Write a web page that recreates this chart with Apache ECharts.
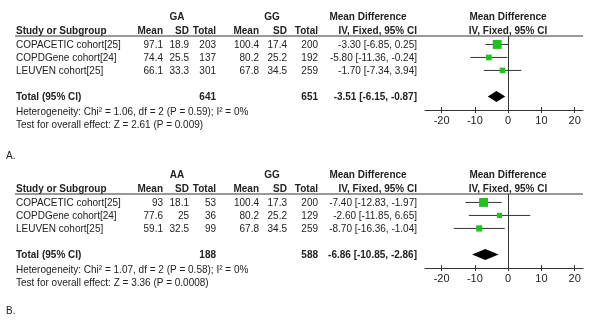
<!DOCTYPE html>
<html>
<head>
<meta charset="utf-8">
<script src="https://cdn.jsdelivr.net/npm/echarts@6/dist/echarts.min.js"></script>
<style>
html, body { margin: 0; padding: 0; background: #fff; }
#main { width: 600px; height: 330px; }
</style>
</head>
<body>
<div id="main"></div>
<script>
// ---- data ----
const studies = ['COPACETIC cohort[25]', 'COPDGene cohort[24]', 'LEUVEN cohort[25]']
const tickValues = [-20, -10, 0, 10, 20]

// A: GA vs GG
const groupsA = ['GA', 'GG']
const meanA1 = [97.1, 74.4, 66.1]
const sdA1 = [18.9, 25.5, 33.3]
const totalA1 = [203, 137, 301]
const meanA2 = [100.4, 80.2, 67.8]
const sdA2 = [17.4, 25.2, 34.5]
const totalA2 = [200, 192, 259]
const mdA = [-3.30, -5.80, -1.70]
const loA = [-6.85, -11.36, -7.34]
const hiA = [0.25, -0.24, 3.94]
const weightA = [55.5, 22.6, 21.9]
const pooledA = { n1: 641, n2: 651, md: -3.51, lo: -6.15, hi: -0.87 }
const hetA = 'Heterogeneity: Chi² = 1.06, df = 2 (P = 0.59); I² = 0%'
const testA = 'Test for overall effect: Z = 2.61 (P = 0.009)'

// B: AA vs GG
const groupsB = ['AA', 'GG']
const meanB1 = [93, 77.6, 59.1]
const sdB1 = [18.1, 25, 32.5]
const totalB1 = [53, 36, 99]
const meanB2 = [100.4, 80.2, 67.8]
const sdB2 = [17.3, 25.2, 34.5]
const totalB2 = [200, 129, 259]
const mdB = [-7.40, -2.60, -8.70]
const loB = [-12.83, -11.85, -16.36]
const hiB = [-1.97, 6.65, -1.04]
const weightB = [54.5, 18.8, 26.7]
const pooledB = { n1: 188, n2: 588, md: -6.86, lo: -10.85, hi: -2.86 }
const hetB = 'Heterogeneity: Chi² = 1.07, df = 2 (P = 0.58); I² = 0%'
const testB = 'Test for overall effect: Z = 3.36 (P = 0.0008)'

// ---- layout ----
const FONT = 'Liberation Sans, Arial, sans-serif'
const TEXT = '#222'
const LINE = '#333'
const ROW_H = 13
const ROW_MIN = 0.35
const TOTAL_ROW = 5
const colRight = [163, 189, 216, 259, 287, 318] // Mean SD Total Mean SD Total
const mdRight = 417
const plotLeft = 425
const plotWidth = 158
const plotHeight = 74

function rowY(top, row) {
  return top + (row - ROW_MIN) * ROW_H
}

// 文字略微拉高, 原图字形偏窄偏高
function txt(x, y, text, align, bold) {
  return {
    type: 'text',
    x: x,
    y: y,
    scaleY: 1.15,
    silent: true,
    style: {
      text: text,
      fill: TEXT,
      font: (bold ? 'bold ' : '') + '10px ' + FONT,
      align: align || 'left',
      verticalAlign: 'middle'
    }
  }
}

function fmt(v) {
  return v.toFixed(2)
}

function ciText(md, lo, hi) {
  return fmt(md) + ' [' + fmt(lo) + ', ' + fmt(hi) + ']'
}

// table text for one panel
function tableGraphics(p) {
  const g = []
  const top = p.top
  g.push(txt(177, top - 19, p.groups[0], 'center', true))
  g.push(txt(272, top - 19, p.groups[1], 'center', true))
  g.push(txt(368, top - 19, 'Mean Difference', 'center', true))
  g.push(txt(508, top - 19, 'Mean Difference', 'center', true))

  const hy = top - 5.5
  g.push(txt(16, hy, 'Study or Subgroup', 'left', true))
  const heads = ['Mean', 'SD', 'Total', 'Mean', 'SD', 'Total']
  heads.forEach((h, i) => g.push(txt(colRight[i], hy, h, 'right', true)))
  g.push(txt(mdRight, hy, 'IV, Fixed, 95% CI', 'right', true))
  g.push(txt(508, hy, 'IV, Fixed, 95% CI', 'center', true))

  g.push({
    type: 'line',
    silent: true,
    shape: { x1: 15, y1: top, x2: 583, y2: top },
    style: { stroke: LINE, lineWidth: 1 }
  })

  studies.forEach((name, i) => {
    const y = rowY(top, i + 1)
    const cells = [p.mean1[i], p.sd1[i], p.n1[i], p.mean2[i], p.sd2[i], p.n2[i]]
    g.push(txt(16, y, name, 'left'))
    cells.forEach((c, j) => g.push(txt(colRight[j], y, String(c), 'right')))
    g.push(txt(mdRight, y, ciText(p.md[i], p.lo[i], p.hi[i]), 'right'))
  })

  const ty = rowY(top, TOTAL_ROW)
  g.push(txt(16, ty, 'Total (95% CI)', 'left', true))
  g.push(txt(colRight[2], ty, String(p.pooled.n1), 'right', true))
  g.push(txt(colRight[5], ty, String(p.pooled.n2), 'right', true))
  g.push(txt(mdRight, ty, ciText(p.pooled.md, p.pooled.lo, p.pooled.hi), 'right', true))
  g.push(txt(16, top + 76, p.het, 'left'))
  g.push(txt(16, top + 89, p.test, 'left'))
  g.push(txt(6, p.labelY, p.label, 'left'))
  return g
}

function renderStudy(params, api) {
  const row = api.value(0)
  const pMd = api.coord([api.value(1), row])
  const pLo = api.coord([api.value(2), row])
  const pHi = api.coord([api.value(3), row])
  const s = 1.2 * Math.sqrt(api.value(4))
  return {
    type: 'group',
    children: [
      {
        type: 'line',
        shape: { x1: pLo[0], y1: pLo[1], x2: pHi[0], y2: pHi[1] },
        style: { stroke: LINE, lineWidth: 1 }
      },
      {
        type: 'rect',
        shape: { x: pMd[0] - s / 2, y: pMd[1] - s / 2, width: s, height: s },
        style: { fill: '#1ec31e' }
      }
    ]
  }
}

function renderTotal(params, api) {
  const row = api.value(0)
  const pMd = api.coord([api.value(1), row])
  const pLo = api.coord([api.value(2), row])
  const pHi = api.coord([api.value(3), row])
  const h = 5.5
  return {
    type: 'polygon',
    shape: {
      points: [[pLo[0], pLo[1]], [pMd[0], pMd[1] - h], [pHi[0], pHi[1]], [pMd[0], pMd[1] + h]]
    },
    style: { fill: '#000' }
  }
}

function forestXAxes(gridIndex) {
  const base = { gridIndex: gridIndex, type: 'value', min: -25, max: 22.5, position: 'bottom', splitLine: { show: false } }
  return [
    Object.assign({}, base, {
      axisLine: { show: true, onZero: false, lineStyle: { color: LINE } },
      axisTick: { show: true, customValues: tickValues, length: 3, lineStyle: { color: LINE } },
      axisLabel: { customValues: tickValues, margin: 5, color: TEXT, fontSize: 11, fontFamily: FONT }
    }),
    Object.assign({}, base, {
      axisLine: { show: false },
      axisTick: { show: true, inside: true, customValues: tickValues, length: 3, lineStyle: { color: LINE } },
      axisLabel: { show: false }
    })
  ]
}

function forestSeries(p, idx) {
  const studyData = studies.map((s, i) => [i + 1, p.md[i], p.lo[i], p.hi[i], p.weight[i]])
  return [
    {
      type: 'custom',
      xAxisIndex: idx * 2,
      yAxisIndex: idx,
      renderItem: renderStudy,
      encode: { x: [1, 2, 3], y: 0 },
      data: studyData,
      silent: true
    },
    {
      type: 'custom',
      xAxisIndex: idx * 2,
      yAxisIndex: idx,
      renderItem: renderTotal,
      encode: { x: [1, 2, 3], y: 0 },
      data: [[TOTAL_ROW, p.pooled.md, p.pooled.lo, p.pooled.hi]],
      silent: true,
      markLine: {
        silent: true,
        symbol: 'none',
        label: { show: false },
        lineStyle: { color: LINE, type: 'solid', width: 1 },
        data: [{ xAxis: 0 }]
      }
    }
  ]
}

const panels = [
  {
    top: 36, label: 'A.', labelY: 156, groups: groupsA,
    mean1: meanA1, sd1: sdA1, n1: totalA1, mean2: meanA2, sd2: sdA2, n2: totalA2,
    md: mdA, lo: loA, hi: hiA, weight: weightA, pooled: pooledA, het: hetA, test: testA
  },
  {
    top: 194, label: 'B.', labelY: 311, groups: groupsB,
    mean1: meanB1, sd1: sdB1, n1: totalB1, mean2: meanB2, sd2: sdB2, n2: totalB2,
    md: mdB, lo: loB, hi: hiB, weight: weightB, pooled: pooledB, het: hetB, test: testB
  }
]

const option = {
  animation: false,
  backgroundColor: '#fff',
  grid: panels.map(p => ({
    left: plotLeft, top: p.top, width: plotWidth, height: plotHeight, outerBoundsMode: 'none'
  })),
  xAxis: forestXAxes(0).concat(forestXAxes(1)),
  yAxis: panels.map((p, i) => ({
    gridIndex: i,
    type: 'value',
    inverse: true,
    min: ROW_MIN,
    max: ROW_MIN + plotHeight / ROW_H,
    show: false
  })),
  series: forestSeries(panels[0], 0).concat(forestSeries(panels[1], 1)),
  graphic: panels.map(tableGraphics).reduce((a, b) => a.concat(b), [])
}

const myChart = echarts.init(document.getElementById('main'))
myChart.setOption(option)
</script>
</body>
</html>
